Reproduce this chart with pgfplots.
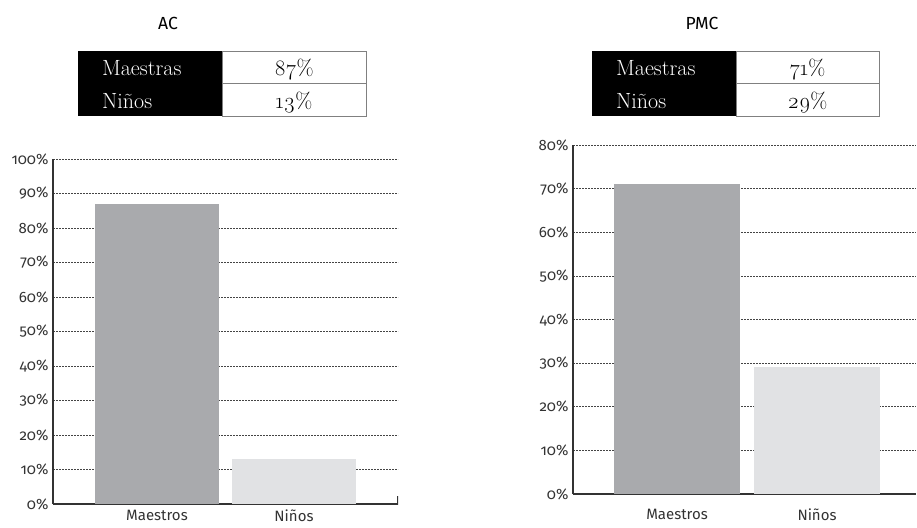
\documentclass[border=0pt]{standalone}
\usepackage{fontspec}
\setmainfont{Fira Sans}[Numbers=OldStyle]
\newfontfamily\tabfont{Latin Modern Roman}[Numbers=OldStyle]
\usepackage{pgfplots}
\pgfplotsset{compat=1.18}

\definecolor{barA}{HTML}{A9AAAD}
\definecolor{barB}{HTML}{E1E2E4}
\definecolor{txt}{HTML}{333333}
\definecolor{gridc}{HTML}{444444}

\pgfplotsset{
  twobars/.style={
    scale only axis,
    anchor=south west,
    ybar, bar shift=0pt,
    ymin=0,
    axis x line*=bottom,
    axis y line*=left,
    axis line style={draw=txt, line width=1.1pt},
    xtick={0,1},
    xticklabels={Maestros,Niños},
    tick style={draw=none},
    ymajorgrids,
    grid style={draw=gridc, line width=0.6pt, dash pattern=on 1.6pt off 1.4pt},
    yticklabel style={font=\fontsize{15}{16}\selectfont, text=txt, xshift=-1pt},
    xticklabel style={font=\fontsize{15}{16}\selectfont, text=txt},
    enlarge x limits=false,
  }
}

\begin{document}
\begin{tikzpicture}[x=1pt,y=1pt]
\path (0pt,0pt) rectangle (917pt,-527pt);

% titles
\node[font=\fontsize{17.5}{18}\selectfont, text=black] at (168pt,-23pt) {AC};
\node[font=\fontsize{17.5}{18}\selectfont, text=black] at (702pt,-23pt) {PMC};

% tables
\foreach \xa/\xb/\xc/\xm/\va/\vb in {78/222/366/294/87/13, 592/736/879/807.5/71/29}{
  \fill[black] (\xa pt,-51pt) rectangle (\xb pt,-116pt);
  \draw[gray, line width=0.8pt, fill=white] (\xb pt,-51pt) rectangle (\xc pt,-83.5pt);
  \draw[gray, line width=0.8pt, fill=white] (\xb pt,-83.5pt) rectangle (\xc pt,-116pt);
  \node[anchor=base west, text=white, font=\tabfont\fontsize{22}{23}\selectfont, inner sep=0pt] at (\xa pt+24pt,-75pt) {Maestras};
  \node[anchor=base west, text=white, font=\tabfont\fontsize{22}{23}\selectfont, inner sep=0pt] at (\xa pt+24pt,-108pt) {Niños};
  \node[anchor=base, text=black, font=\tabfont\fontsize{22}{23}\selectfont, inner sep=0pt] at (\xm pt,-75pt) {\va\%};
  \node[anchor=base, text=black, font=\tabfont\fontsize{22}{23}\selectfont, inner sep=0pt] at (\xm pt,-108pt) {\vb\%};
}

% AC chart
\begin{axis}[twobars,
  at={(53pt,-504pt)}, width=345pt, height=345pt,
  xmin=-0.759, xmax=1.759, bar width=0.905,
  ymax=100, ytick={0,10,...,100},
  yticklabels={0\%,10\%,20\%,30\%,40\%,50\%,60\%,70\%,80\%,90\%,100\%},
  xticklabel style={yshift=2pt},
]
\addplot[fill=barA, draw=none] coordinates {(0,87)};
\addplot[fill=barB, draw=none] coordinates {(1,13)};
\draw[txt, line width=1.1pt] (rel axis cs:1,0) -- ++(0pt,8pt);
\end{axis}

% PMC chart
\begin{axis}[twobars,
  at={(573pt,-494pt)}, width=343pt, height=349pt,
  xmin=-0.743, xmax=1.707, bar width=0.9,
  ymax=80, ytick={0,10,...,80},
  yticklabels={0\%,10\%,20\%,30\%,40\%,50\%,60\%,70\%,80\%},
  xticklabel style={yshift=-7pt},
]
\addplot[fill=barA, draw=none] coordinates {(0,71)};
\addplot[fill=barB, draw=none] coordinates {(1,29)};
\end{axis}
\end{tikzpicture}
\end{document}
